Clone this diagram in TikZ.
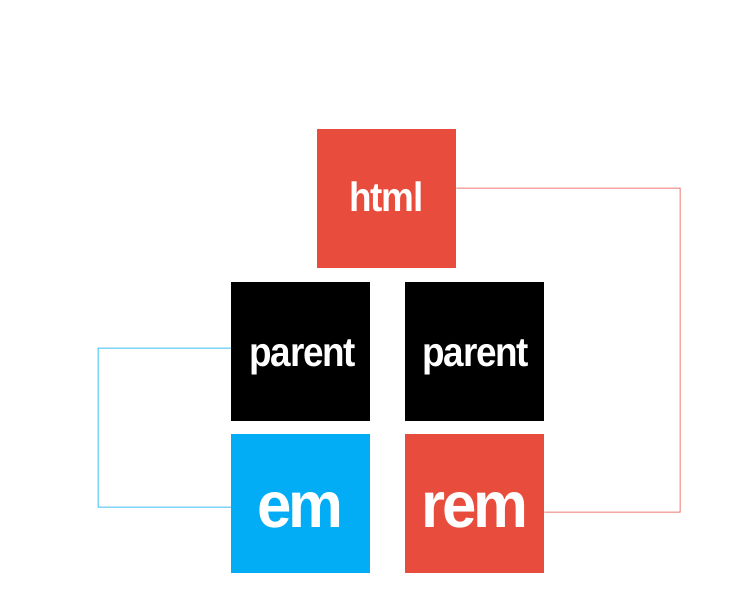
\documentclass[tikz,border=0pt]{standalone}
\usepackage{fontspec}
\setmainfont{Liberation Sans}
\newfontfamily\lbl[FakeStretch=0.9,LetterSpace=-3]{Liberation Sans}
\newfontfamily\lblbig[FakeStretch=0.95,LetterSpace=-5]{Liberation Sans}
\definecolor{redc}{HTML}{E74C3C}
\definecolor{bluec}{HTML}{03ADF5}
\definecolor{redl}{HTML}{EE7A70}
\definecolor{bluel}{HTML}{3EC0F5}
\begin{document}
\begin{tikzpicture}[x=1pt,y=-1pt,
  box/.style={minimum width=139pt,minimum height=139pt,inner sep=0pt,anchor=north west,draw=none},
  small/.style={text=white,inner sep=0pt,anchor=base,font=\lbl\bfseries\fontsize{41}{41}\selectfont},
  big/.style={text=white,inner sep=0pt,anchor=base,font=\lblbig\bfseries\fontsize{65}{65}\selectfont},
  conn/.style={line width=1pt}]
\useasboundingbox (0,0) rectangle (756,611);
\node[box,fill=redc] (html) at (317,129) {};
\node[box,fill=black] (pl) at (231,282) {};
\node[box,fill=black] (pr) at (405,282) {};
\node[box,fill=bluec] (em) at (231,434) {};
\node[box,fill=redc] (rem) at (405,434) {};
\node[small] (thtml) at ([yshift=-12.5pt]html.center) {html};
\node[small] (tpl) at ([xshift=2pt,yshift=-14.5pt]pl.center) {parent};
\node[small] (tpr) at ([xshift=1pt,yshift=-14.5pt]pr.center) {parent};
\node[big] (tem) at ([yshift=-23.5pt]em.center) {em};
\node[big] (trem) at ([yshift=-23.5pt]rem.center) {rem};
\coordinate (r1) at (680,188);
\coordinate (r2) at (680,512);
\coordinate (b1) at (98,348);
\coordinate (b2) at (98,507);
\draw[conn,redl] ([yshift=10.5pt]html.east) -- (r1) -- (r2) -- ([yshift=-8.5pt]rem.east);
\draw[conn,bluel] ([yshift=3.5pt]pl.west) -- (b1) -- (b2) -- ([yshift=-3.5pt]em.west);
\end{tikzpicture}
\end{document}
